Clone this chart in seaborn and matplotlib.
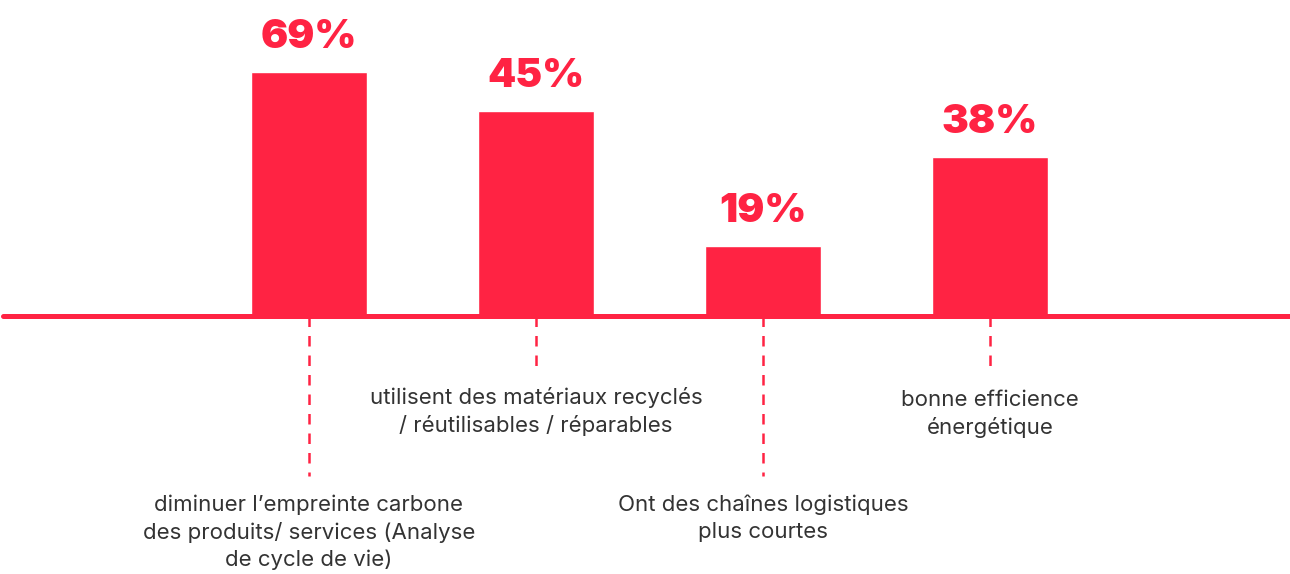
import matplotlib
matplotlib.use("Agg")
import matplotlib.pyplot as plt
import seaborn as sns
import pandas as pd

# ---- data ----
categories = [
    "diminuer l\u2019empreinte carbone\ndes produits/ services (Analyse\nde cycle de vie)",
    "utilisent des mat\u00e9riaux recycl\u00e9s\n/ r\u00e9utilisables / r\u00e9parables",
    "Ont des cha\u00eenes logistiques\nplus courtes",
    "bonne efficience\n\u00e9nerg\u00e9tique",
]
pct_labels = [69, 45, 19, 38]          # printed values
bar_heights = [69, 58, 20, 45]         # drawn bar heights
leader_lengths = [45, 15, 45, 14.5]    # length of dashed leaders below baseline

RED = "#FF2343"
TXT = "#333333"

sns.set_theme(style="white")
plt.rcParams["font.family"] = ["Inter", "DejaVu Sans"]

df = pd.DataFrame({"cat": categories, "h": bar_heights})

fig = plt.figure(figsize=(12.9, 5.74), dpi=100)
ax = fig.add_axes([0, 0, 1, 1])

sns.barplot(data=df, x="cat", y="h", color=RED, saturation=1, width=0.51, ax=ax)

ax.set_xlim(-1.361, 4.322)
ax.set_ylim(-72.7, 89.3)
ax.axis("off")

ax.axhline(0, xmin=0.002, xmax=1, color=RED, lw=3.6, zorder=3)

text_tops = [-50.3, -20.0, -50.3, -20.8]
for i, (p, h, L, lab, ty) in enumerate(zip(pct_labels, bar_heights, leader_lengths, categories, text_tops)):
    ax.annotate(f"{p}%", xy=(i, h), xytext=(0, 17), textcoords="offset points",
                ha="center", va="baseline", fontsize=29, fontweight=900, color=RED)
    ax.plot([i, i], [0, -L], color=RED, lw=1.8, linestyle=(0, (4.2, 3.6)), zorder=2)
    ax.text(i, ty, lab, ha="center", va="top", fontsize=16, color=TXT, linespacing=1.4)

fig.savefig("out.png", dpi=100)
